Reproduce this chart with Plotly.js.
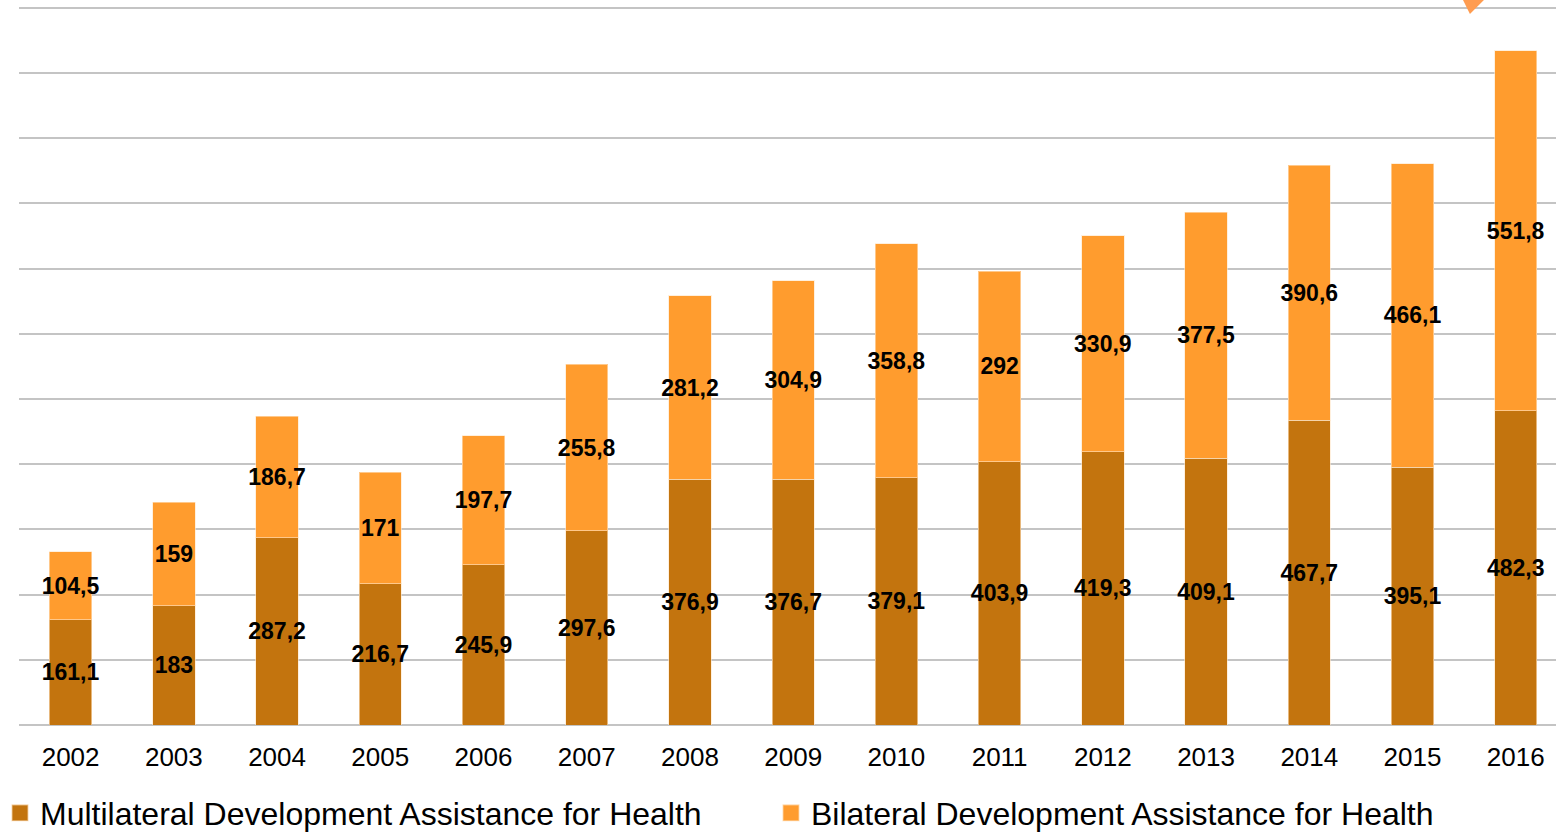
<!DOCTYPE html>
<html>
<head>
<meta charset="utf-8">
<script src="https://cdn.plot.ly/plotly-3.0.1.min.js"></script>
<style>html,body{margin:0;padding:0;background:#fff;}#chart{width:1556px;height:832px;}</style>
</head>
<body>
<div id="chart"></div>
<script>
const years = ['2002','2003','2004','2005','2006','2007','2008','2009','2010','2011','2012','2013','2014','2015','2016'];
const multilateral = [161.1,183,287.2,216.7,245.9,297.6,376.9,376.7,379.1,403.9,419.3,409.1,467.7,395.1,482.3];
const bilateral = [104.5,159,186.7,171,197.7,255.8,281.2,304.9,358.8,292,330.9,377.5,390.6,466.1,551.8];
const seriesNames = ['Multilateral Development Assistance for Health','Bilateral Development Assistance for Health'];

const fmt = v => String(v).replace('.', ',');
const labelFont = {family:'"Liberation Sans", Arial, sans-serif', size:23, color:'#000', weight:'bold'};

const common = {
  type:'bar', x: years, textposition:'inside', insidetextanchor:'middle',
  textangle:0, constraintext:'none', cliponaxis:false,
  insidetextfont: labelFont, textfont: labelFont, hoverinfo:'none'
};

const traces = [
  Object.assign({}, common, {
    name: seriesNames[0], y: multilateral, text: multilateral.map(fmt), legend:'legend',
    marker:{color:'#C3740E', line:{color:'rgba(255,230,200,0.6)', width:1}}
  }),
  Object.assign({}, common, {
    name: seriesNames[1], y: bilateral, text: bilateral.map(fmt), legend:'legend2',
    marker:{color:'#FF9C2E', line:{color:'rgba(255,230,200,0.6)', width:1}}
  })
];

const legendCommon = {orientation:'h', xanchor:'left', xref:'container', yref:'container',
  y:0.0228, yanchor:'middle',
  font:{size:32, color:'#000'}, itemclick:false, bgcolor:'rgba(0,0,0,0)'};

const layout = {
  width:1556, height:832,
  margin:{l:19, r:0, t:0, b:107},
  barmode:'stack', bargap:0.59,
  paper_bgcolor:'#fff', plot_bgcolor:'#fff',
  font:{family:'"Liberation Sans", Arial, sans-serif', color:'#000'},
  xaxis:{type:'category', range:[-0.5, 14.39], showgrid:false, zeroline:false,
    showline:false, ticks:'', tickfont:{size:26, color:'#000'}, ticklabelstandoff:14, automargin:false},
  yaxis:{range:[0,1112], dtick:100, tick0:0, showgrid:true, gridcolor:'#C4C4C4', gridwidth:2,
    zeroline:true, zerolinecolor:'#C4C4C4', zerolinewidth:2, showticklabels:false, ticks:'', automargin:false},
  showlegend:true,
  legend: Object.assign({x:-0.003}, legendCommon),
  legend2: Object.assign({x:0.4955}, legendCommon),
  shapes:[{type:'path', xref:'paper', yref:'paper',
    path:'M 0.9395 1.0 L 0.9531 1.0 L 0.9440 0.9807 Z',
    fillcolor:'#FF9C50', line:{width:0}}]
};

Plotly.newPlot('chart', traces, layout, {displayModeBar:false, staticPlot:true}).then(function(){
  document.querySelectorAll('.legendpoints path').forEach(function(p){
    const t = p.getAttribute('transform') || '';
    p.setAttribute('transform', t + ' scale(1.35)');
  });
});
</script>
</body>
</html>
